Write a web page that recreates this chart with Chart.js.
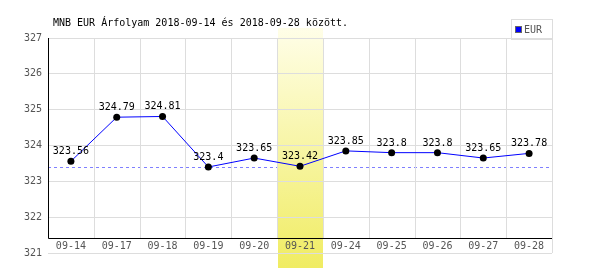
<!DOCTYPE html>
<html>
<head>
<meta charset="utf-8">
<script src="https://cdn.jsdelivr.net/npm/chart.js@4"></script>
<style>
  body { margin: 0; background: #fff; }
</style>
</head>
<body>
<canvas id="rateChart" width="600" height="270"></canvas>
<script>
// adatok
const days = ['09-14', '09-17', '09-18', '09-19', '09-20', '09-21', '09-24', '09-25', '09-26', '09-27', '09-28'];
const eurRates = [323.56, 324.79, 324.81, 323.4, 323.65, 323.42, 323.85, 323.8, 323.8, 323.65, 323.78];
const yMin = 321;
const yMax = 327;
const highlightDay = '09-21';
const refValue = Math.min(...eurRates);
const titleText = 'MNB EUR Árfolyam 2018-09-14 és 2018-09-28 között.';
const seriesName = 'EUR';

const MONO = '"DejaVu Sans Mono", monospace';
Chart.defaults.font.family = MONO;
Chart.defaults.font.size = 10;

const AXIS_GAP = 15; // x tengely a rajzterület alja fölött

const decorations = {
    id: 'decorations',
    afterLayout(chart) {
        // x címkék a rajzterületen belül, a fekete tengely alatt
        chart.scales.x.top = chart.chartArea.bottom - AXIS_GAP;
    },
    beforeDraw(chart) {
        const { ctx, chartArea, scales } = chart;
        const x = scales.x, y = scales.y;
        const step = x.getPixelForValue(1) - x.getPixelForValue(0);
        const axisY = chartArea.bottom - AXIS_GAP;

        // szaggatott vonal
        ctx.save();
        ctx.strokeStyle = '#7f7fff';
        ctx.lineWidth = 1;
        ctx.setLineDash([3, 3]);
        const ry = Math.round(y.getPixelForValue(refValue)) + 0.5;
        ctx.beginPath();
        ctx.moveTo(chartArea.left, ry);
        ctx.lineTo(chartArea.right, ry);
        ctx.stroke();
        ctx.restore();

        // kiemelt nap
        const hi = days.indexOf(highlightDay);
        const bx = x.getPixelForValue(hi) - step / 2;
        const top = chartArea.top - 10, bottom = chart.height - 2;
        const grad = ctx.createLinearGradient(0, top, 0, bottom);
        grad.addColorStop(0, 'rgb(255,254,232)');
        grad.addColorStop(1, 'rgb(240,236,98)');
        ctx.fillStyle = grad;
        ctx.fillRect(Math.round(bx) + 1, top, Math.round(step) - 1, bottom - top);

        // függőleges rácsvonalak
        ctx.save();
        ctx.strokeStyle = '#dddddd';
        ctx.lineWidth = 1;
        for (let i = 0; i <= days.length; i++) {
            const px = Math.round(x.getPixelForValue(i) - step / 2) + 0.5;
            ctx.beginPath();
            ctx.moveTo(px, chartArea.top);
            ctx.lineTo(px, i === days.length ? chartArea.bottom : axisY);
            ctx.stroke();
        }
        ctx.restore();

        // cím
        ctx.save();
        ctx.fillStyle = '#000';
        ctx.font = '10px ' + MONO;
        ctx.textBaseline = 'middle';
        ctx.textAlign = 'left';
        ctx.fillText(titleText, chartArea.left + 5, 23);
        ctx.restore();

        // jelmagyarázat
        ctx.save();
        const lx = chartArea.right - 41, ly = chartArea.top - 19;
        ctx.fillStyle = '#fff';
        ctx.fillRect(lx, ly, 41, 20);
        ctx.strokeStyle = '#dddddd';
        ctx.strokeRect(lx + 0.5, ly + 0.5, 41, 20);
        ctx.fillStyle = '#0000ff';
        ctx.fillRect(lx + 4, ly + 7, 7, 7);
        ctx.strokeStyle = '#666';
        ctx.strokeRect(lx + 4.5, ly + 7.5, 6, 6);
        ctx.fillStyle = '#555';
        ctx.textBaseline = 'middle';
        ctx.fillText(seriesName, lx + 13, ly + 11);
        ctx.restore();
    },
    beforeDatasetsDraw(chart) {
        const { ctx, chartArea } = chart;
        const axisY = chartArea.bottom - AXIS_GAP;
        ctx.save();
        ctx.strokeStyle = '#000';
        ctx.lineWidth = 1;
        ctx.beginPath();
        ctx.moveTo(chartArea.left + 0.5, chartArea.top);
        ctx.lineTo(chartArea.left + 0.5, axisY + 0.5);
        ctx.lineTo(chartArea.right, axisY + 0.5);
        ctx.stroke();
        ctx.restore();
    },
    afterDatasetsDraw(chart) {
        const { ctx } = chart;
        const meta = chart.getDatasetMeta(0);
        ctx.save();
        ctx.fillStyle = '#000';
        ctx.font = '10px ' + MONO;
        ctx.textAlign = 'center';
        ctx.textBaseline = 'alphabetic';
        meta.data.forEach((pt, i) => {
            ctx.fillText(String(eurRates[i]), pt.x, pt.y - 7);
        });
        ctx.restore();
    }
};

new Chart(document.getElementById('rateChart'), {
    type: 'line',
    data: {
        labels: days,
        datasets: [{
            label: seriesName,
            data: eurRates,
            borderColor: '#0000ff',
            borderWidth: 1,
            pointBackgroundColor: '#000',
            pointBorderColor: '#000',
            pointRadius: 3.5,
            pointBorderWidth: 0,
            tension: 0,
            fill: false
        }]
    },
    options: {
        responsive: false,
        animation: false,
        devicePixelRatio: 1,
        layout: { padding: { top: 38, right: 48, left: 0, bottom: 0 } },
        plugins: {
            legend: { display: false },
            title: { display: false },
            tooltip: { enabled: false }
        },
        scales: {
            x: {
                offset: true,
                grid: { display: false, drawTicks: false },
                border: { display: false },
                ticks: { color: '#555', padding: 2, maxRotation: 0, autoSkip: false },
                afterFit(scale) { scale.height = 17; }
            },
            y: {
                min: yMin,
                max: yMax,
                grid: { color: '#dddddd', drawTicks: false },
                border: { display: false },
                ticks: { stepSize: 1, color: '#555', padding: 6 },
                afterFit(scale) { scale.width = 48; }
            }
        }
    },
    plugins: [decorations]
});
</script>
</body>
</html>
